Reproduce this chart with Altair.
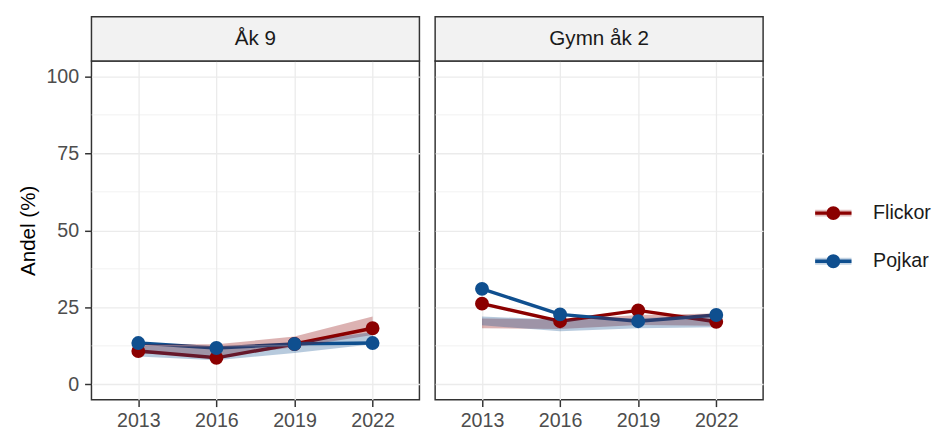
import altair as alt
import pandas as pd

years = ["2013", "2016", "2019", "2022"]
panels = ["Åk 9", "Gymn åk 2"]
groups = ["Flickor", "Pojkar"]
colors = ["#8B0000", "#0F4F8F"]

# Åk 9
ak9_flickor = [10.8, 8.6, 13.1, 18.2]
ak9_pojkar = [13.4, 11.8, 13.1, 13.4]
ak9_flickor_lo = [10.0, 9.0, 12.0, 16.0]
ak9_flickor_hi = [13.0, 13.0, 15.5, 22.0]
ak9_pojkar_lo = [9.0, 7.8, 10.2, 13.0]
ak9_pojkar_hi = [12.5, 12.0, 13.5, 17.0]

# Gymn åk 2
gy_flickor = [26.2, 20.5, 24.0, 20.3]
gy_pojkar = [31.0, 22.7, 20.5, 22.5]
gy_flickor_lo = [18.2, 18.0, 19.3, 19.0]
gy_flickor_hi = [21.4, 21.0, 22.5, 23.0]
gy_pojkar_lo = [19.2, 17.2, 18.2, 18.5]
gy_pojkar_hi = [22.0, 21.0, 21.5, 22.0]

y_major = [0, 25, 50, 75, 100]
y_minor = [12.5, 37.5, 62.5, 87.5]

rows = []
series = {
    (panels[0], groups[0]): (ak9_flickor, ak9_flickor_lo, ak9_flickor_hi),
    (panels[0], groups[1]): (ak9_pojkar, ak9_pojkar_lo, ak9_pojkar_hi),
    (panels[1], groups[0]): (gy_flickor, gy_flickor_lo, gy_flickor_hi),
    (panels[1], groups[1]): (gy_pojkar, gy_pojkar_lo, gy_pojkar_hi),
}
for (p, g), (vals, lo, hi) in series.items():
    for yr, v, l, h in zip(years, vals, lo, hi):
        rows.append({"panel": p, "year": yr, "kon": g, "value": v, "lo": l, "hi": h})
df = pd.DataFrame(rows)

W, H, SH = 334, 345, 45
FONT = "Liberation Sans"
yscale = alt.Scale(domain=[-5, 105], nice=False, zero=False)
xscale = alt.Scale(type="point", padding=0.6, domain=years)
cscale = alt.Scale(domain=groups, range=colors)


def panel(p, show_y):
    d = df[df["panel"] == p]
    base = alt.Chart(d)
    xax = alt.Axis(title=None, labelAngle=0, labelFontSize=20, labelColor="#4d4d4d",
                   tickSize=7, tickColor="#333333", tickWidth=1.5, labelPadding=4,
                   domain=False, grid=True, gridColor="#ebebeb", gridWidth=1.3)
    if show_y:
        yax = alt.Axis(values=y_major, title="Andel (%)", titleFontSize=21,
                       titleFontWeight="normal", titleColor="#000000", titlePadding=8,
                       labelFontSize=20, labelColor="#4d4d4d", tickSize=7,
                       tickColor="#333333", tickWidth=1.5, labelPadding=6,
                       domain=False, grid=True, gridColor="#ebebeb", gridWidth=1.3)
    else:
        yax = alt.Axis(values=y_major, title=None, labels=False, ticks=False,
                       domain=False, grid=True, gridColor="#ebebeb", gridWidth=1.3)
    line = base.mark_line(strokeWidth=3.5).encode(
        x=alt.X("year:O", scale=xscale, axis=xax),
        y=alt.Y("value:Q", scale=yscale, axis=yax),
        stroke=alt.Stroke("kon:N", scale=cscale, legend=None),
    )
    minor = alt.Chart(pd.DataFrame({"m": y_minor})).mark_rule(
        color="#ebebeb", strokeWidth=0.7
    ).encode(y=alt.Y("m:Q", scale=yscale, axis=yax))
    area = base.mark_area(opacity=0.3).encode(
        x=alt.X("year:O", scale=xscale, axis=xax),
        y=alt.Y("lo:Q", scale=yscale, axis=yax),
        y2="hi:Q",
        fill=alt.Fill("kon:N", scale=cscale, legend=None),
    )
    pts = base.mark_circle(size=200, opacity=1).encode(
        x=alt.X("year:O", scale=xscale, axis=xax),
        y=alt.Y("value:Q", scale=yscale, axis=yax),
        color=alt.Color("kon:N", scale=cscale, legend=None),
    )
    lab = pd.DataFrame({"label": [p]})
    strip_bg = alt.Chart(lab).mark_rect(
        fill="#f2f2f2", stroke="#333333", strokeWidth=1.5
    ).encode(x=alt.value(0), x2=alt.value(W), y=alt.value(-SH), y2=alt.value(0))
    strip_txt = alt.Chart(lab).mark_text(
        fontSize=21, color="#1a1a1a", font=FONT, align="center", baseline="middle"
    ).encode(text="label:N", x=alt.value(W / 2), y=alt.value(-SH / 2))
    return alt.layer(line, minor, area, pts, strip_bg, strip_txt).properties(width=W, height=H)


# manual legend (line + point key, as in the reference)
leg_df = pd.DataFrame({"kon": groups})
leg_y = alt.Y("kon:N", scale=alt.Scale(type="point", padding=0, domain=groups,
                                       range=[155, 204]), axis=None)
leg_base = alt.Chart(leg_df)
leg_halo = leg_base.mark_rule(strokeWidth=7, opacity=0.25).encode(
    x=alt.value(38), x2=alt.value(75), y=leg_y, color=alt.Color("kon:N", scale=cscale, legend=None))
leg_line = leg_base.mark_rule(strokeWidth=3.5).encode(
    x=alt.value(38), x2=alt.value(75), y=leg_y, color=alt.Color("kon:N", scale=cscale, legend=None))
leg_pt = leg_base.mark_circle(size=200, opacity=1).encode(
    x=alt.value(56.5), y=leg_y, color=alt.Color("kon:N", scale=cscale, legend=None))
leg_txt = leg_base.mark_text(fontSize=20, color="#1a1a1a", font=FONT, align="left",
                             baseline="middle").encode(
    x=alt.value(97), y=leg_y, text="kon:N")
legend = alt.layer(leg_halo, leg_line, leg_pt, leg_txt).properties(
    width=138, height=H, view=alt.ViewBackground(stroke="transparent", fill="transparent"))

chart = alt.hconcat(panel(panels[0], True), panel(panels[1], False), legend,
                    spacing=12).properties(
    padding={"left": 8, "top": 3, "right": 0, "bottom": 0}
).configure(font=FONT).configure_view(stroke="#333333", strokeWidth=1.5)

chart.save("out.html", embed_options={"renderer": "svg", "actions": False})
